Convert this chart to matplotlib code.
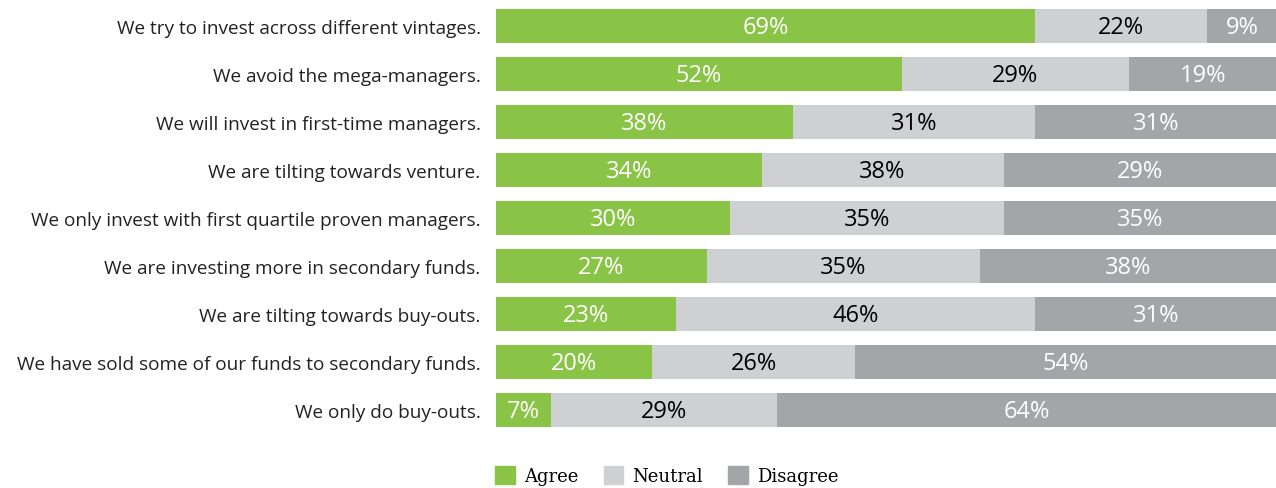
import numpy as np
import matplotlib
matplotlib.use("Agg")
import matplotlib.pyplot as plt
from matplotlib.patches import Patch

# Datos
categorias = [
    "We try to invest across different vintages.",
    "We avoid the mega-managers.",
    "We will invest in first-time managers.",
    "We are tilting towards venture.",
    "We only invest with first quartile proven managers.",
    "We are investing more in secondary funds.",
    "We are tilting towards buy-outs.",
    "We have sold some of our funds to secondary funds.",
    "We only do buy-outs.",
]
# ancho de cada segmento tal como se dibuja
agree = [69, 52, 38, 34, 30, 27, 23, 20, 7]
neutral = [22, 29, 31, 31, 35, 35, 46, 26, 29]
disagree = [9, 19, 31, 35, 35, 38, 31, 54, 64]
# texto impreso en cada segmento (la fila 4 no coincide con el ancho)
agree_lbl = [69, 52, 38, 34, 30, 27, 23, 20, 7]
neutral_lbl = [22, 29, 31, 38, 35, 35, 46, 26, 29]
disagree_lbl = [9, 19, 31, 29, 35, 38, 31, 54, 64]

VERDE = "#89c447"
GRIS_CLARO = "#cfd0d2"
GRIS_OSCURO = "#a4a5a8"

fig = plt.figure(figsize=(12.76, 4.89), dpi=100)
ax = fig.add_axes([496 / 1276, 1 - 435 / 489, 781 / 1276, 432 / 489])

y = np.arange(len(categorias))
agree_a = np.array(agree)
neutral_a = np.array(neutral)
disagree_a = np.array(disagree)

series = [
    (agree_a, 0, VERDE, agree_lbl, "white", "Agree"),
    (neutral_a, agree_a, GRIS_CLARO, neutral_lbl, "black", "Neutral"),
    (disagree_a, agree_a + neutral_a, GRIS_OSCURO, disagree_lbl, "white", "Disagree"),
]
for vals, left, color, lbls, tcolor, nombre in series:
    bars = ax.barh(y, vals, left=left, height=34 / 48, color=color, label=nombre)
    for b, lab in zip(bars, lbls):
        cx = b.get_x() + b.get_width() / 2
        cy = b.get_y() + b.get_height() / 2
        ax.text(cx, cy + 0.02, f"{lab}%", ha="center", va="center",
                color=tcolor, fontsize=17, family="Open Sans")

ax.set_xlim(0, 100)
ax.set_ylim(8.5, -0.5)
ax.set_yticks(y)
ax.set_yticklabels(categorias, fontsize=13.7, family="Open Sans", color="#222222")
ax.tick_params(axis="y", length=0, pad=11)
ax.set_xticks([])
for s in ax.spines.values():
    s.set_visible(False)

handles = [Patch(color=VERDE), Patch(color=GRIS_CLARO), Patch(color=GRIS_OSCURO)]
fig.legend(handles, ["Agree", "Neutral", "Disagree"], loc="lower left",
           bbox_to_anchor=(495 / 1276, 0.006), ncol=3, frameon=False,
           borderpad=0, borderaxespad=0,
           prop={"family": "DejaVu Serif", "size": 13},
           handlelength=1.1, handleheight=1.1, handletextpad=0.5, columnspacing=1.4)

fig.savefig("out.png", dpi=100)
